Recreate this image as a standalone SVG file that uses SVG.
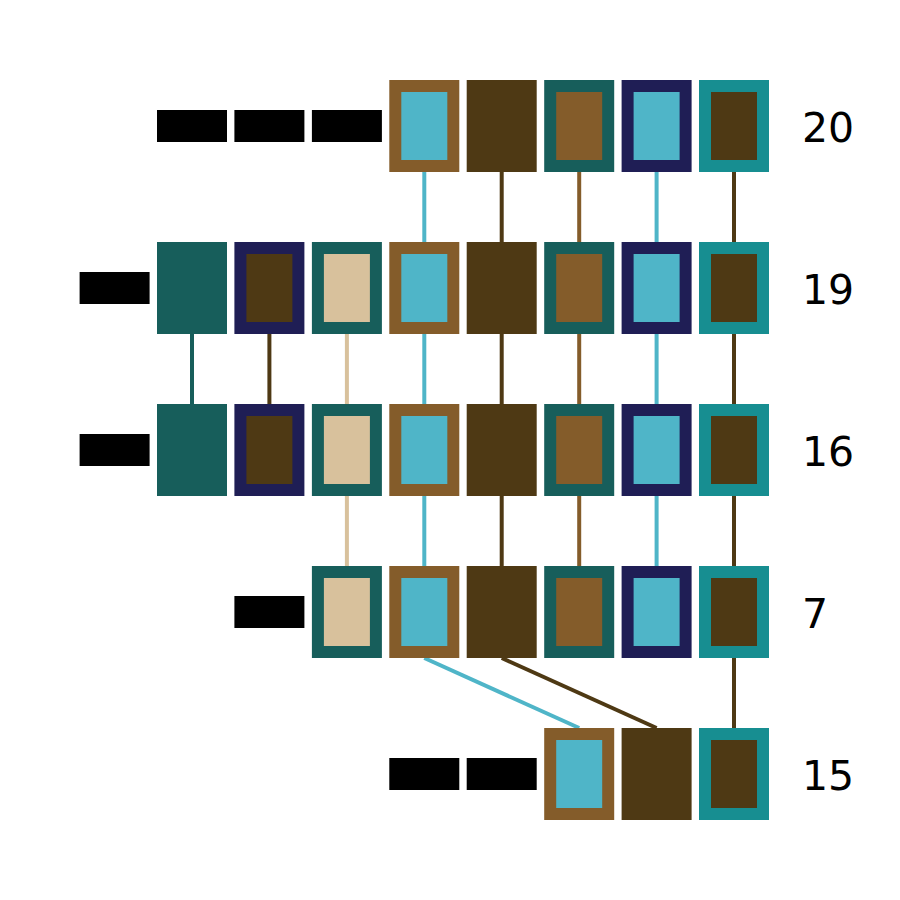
<svg xmlns="http://www.w3.org/2000/svg" width="900" height="900" viewBox="0 0 900 900">
<style>
.bar{fill:#000}
.lbl{font-family:"DejaVu Sans",sans-serif;font-size:41px;fill:#000}
.c line{stroke-width:4;fill:none}
.cy{stroke:#4FB5C8}.db{stroke:#4E3914}.br{stroke:#845C2A}.tl{stroke:#175E5B}.bg{stroke:#D8C19C}
.fBr{fill:#845C2A}.fCy{fill:#4FB5C8}.fDb{fill:#4E3914}.fTl{fill:#175E5B}.fNv{fill:#1F1E55}.fTL{fill:#178E91}.fBg{fill:#D8C19C}
</style>
<rect width="900" height="900" fill="#fff"/>
<g id="connectors" class="c">
<line class="cy" x1="424.3" y1="172" x2="424.3" y2="242"/>
<line class="db" x1="501.7" y1="172" x2="501.7" y2="242"/>
<line class="br" x1="579.2" y1="172" x2="579.2" y2="242"/>
<line class="cy" x1="656.6" y1="172" x2="656.6" y2="242"/>
<line class="db" x1="734" y1="172" x2="734" y2="242"/>
<line class="tl" x1="192" y1="334" x2="192" y2="404"/>
<line class="db" x1="269.4" y1="334" x2="269.4" y2="404"/>
<line class="bg" x1="346.9" y1="334" x2="346.9" y2="404"/>
<line class="cy" x1="424.3" y1="334" x2="424.3" y2="404"/>
<line class="db" x1="501.7" y1="334" x2="501.7" y2="404"/>
<line class="br" x1="579.2" y1="334" x2="579.2" y2="404"/>
<line class="cy" x1="656.6" y1="334" x2="656.6" y2="404"/>
<line class="db" x1="734" y1="334" x2="734" y2="404"/>
<line class="bg" x1="346.9" y1="496" x2="346.9" y2="566"/>
<line class="cy" x1="424.3" y1="496" x2="424.3" y2="566"/>
<line class="db" x1="501.7" y1="496" x2="501.7" y2="566"/>
<line class="br" x1="579.2" y1="496" x2="579.2" y2="566"/>
<line class="cy" x1="656.6" y1="496" x2="656.6" y2="566"/>
<line class="db" x1="734" y1="496" x2="734" y2="566"/>
<line class="cy" x1="424.3" y1="658" x2="579.2" y2="728"/>
<line class="db" x1="501.7" y1="658" x2="656.6" y2="728"/>
<line class="db" x1="734" y1="658" x2="734" y2="728"/>
</g>
<g id="row20">
<rect class="bar" x="157" y="110" width="70" height="32"/>
<rect class="bar" x="234.4" y="110" width="70" height="32"/>
<rect class="bar" x="311.9" y="110" width="70" height="32"/>
<g id="n20-3"><rect class="fBr" x="389.3" y="80" width="70" height="92"/><rect class="fCy" x="401.3" y="92" width="46" height="68"/></g>
<g id="n20-4"><rect class="fDb" x="466.7" y="80" width="70" height="92"/></g>
<g id="n20-5"><rect class="fTl" x="544.2" y="80" width="70" height="92"/><rect class="fBr" x="556.2" y="92" width="46" height="68"/></g>
<g id="n20-6"><rect class="fNv" x="621.6" y="80" width="70" height="92"/><rect class="fCy" x="633.6" y="92" width="46" height="68"/></g>
<g id="n20-7"><rect class="fTL" x="699" y="80" width="70" height="92"/><rect class="fDb" x="711" y="92" width="46" height="68"/></g>
<text class="lbl" x="802" y="142">20</text>
</g>
<g id="row19">
<rect class="bar" x="79.6" y="272" width="70" height="32"/>
<g id="n19-0"><rect class="fTl" x="157" y="242" width="70" height="92"/></g>
<g id="n19-1"><rect class="fNv" x="234.4" y="242" width="70" height="92"/><rect class="fDb" x="246.4" y="254" width="46" height="68"/></g>
<g id="n19-2"><rect class="fTl" x="311.9" y="242" width="70" height="92"/><rect class="fBg" x="323.9" y="254" width="46" height="68"/></g>
<g id="n19-3"><rect class="fBr" x="389.3" y="242" width="70" height="92"/><rect class="fCy" x="401.3" y="254" width="46" height="68"/></g>
<g id="n19-4"><rect class="fDb" x="466.7" y="242" width="70" height="92"/></g>
<g id="n19-5"><rect class="fTl" x="544.2" y="242" width="70" height="92"/><rect class="fBr" x="556.2" y="254" width="46" height="68"/></g>
<g id="n19-6"><rect class="fNv" x="621.6" y="242" width="70" height="92"/><rect class="fCy" x="633.6" y="254" width="46" height="68"/></g>
<g id="n19-7"><rect class="fTL" x="699" y="242" width="70" height="92"/><rect class="fDb" x="711" y="254" width="46" height="68"/></g>
<text class="lbl" x="802" y="304">19</text>
</g>
<g id="row16">
<rect class="bar" x="79.6" y="434" width="70" height="32"/>
<g id="n16-0"><rect class="fTl" x="157" y="404" width="70" height="92"/></g>
<g id="n16-1"><rect class="fNv" x="234.4" y="404" width="70" height="92"/><rect class="fDb" x="246.4" y="416" width="46" height="68"/></g>
<g id="n16-2"><rect class="fTl" x="311.9" y="404" width="70" height="92"/><rect class="fBg" x="323.9" y="416" width="46" height="68"/></g>
<g id="n16-3"><rect class="fBr" x="389.3" y="404" width="70" height="92"/><rect class="fCy" x="401.3" y="416" width="46" height="68"/></g>
<g id="n16-4"><rect class="fDb" x="466.7" y="404" width="70" height="92"/></g>
<g id="n16-5"><rect class="fTl" x="544.2" y="404" width="70" height="92"/><rect class="fBr" x="556.2" y="416" width="46" height="68"/></g>
<g id="n16-6"><rect class="fNv" x="621.6" y="404" width="70" height="92"/><rect class="fCy" x="633.6" y="416" width="46" height="68"/></g>
<g id="n16-7"><rect class="fTL" x="699" y="404" width="70" height="92"/><rect class="fDb" x="711" y="416" width="46" height="68"/></g>
<text class="lbl" x="802" y="466">16</text>
</g>
<g id="row7">
<rect class="bar" x="234.4" y="596" width="70" height="32"/>
<g id="n7-2"><rect class="fTl" x="311.9" y="566" width="70" height="92"/><rect class="fBg" x="323.9" y="578" width="46" height="68"/></g>
<g id="n7-3"><rect class="fBr" x="389.3" y="566" width="70" height="92"/><rect class="fCy" x="401.3" y="578" width="46" height="68"/></g>
<g id="n7-4"><rect class="fDb" x="466.7" y="566" width="70" height="92"/></g>
<g id="n7-5"><rect class="fTl" x="544.2" y="566" width="70" height="92"/><rect class="fBr" x="556.2" y="578" width="46" height="68"/></g>
<g id="n7-6"><rect class="fNv" x="621.6" y="566" width="70" height="92"/><rect class="fCy" x="633.6" y="578" width="46" height="68"/></g>
<g id="n7-7"><rect class="fTL" x="699" y="566" width="70" height="92"/><rect class="fDb" x="711" y="578" width="46" height="68"/></g>
<text class="lbl" x="802" y="628">7</text>
</g>
<g id="row15">
<rect class="bar" x="389.3" y="758" width="70" height="32"/>
<rect class="bar" x="466.7" y="758" width="70" height="32"/>
<g id="n15-5"><rect class="fBr" x="544.2" y="728" width="70" height="92"/><rect class="fCy" x="556.2" y="740" width="46" height="68"/></g>
<g id="n15-6"><rect class="fDb" x="621.6" y="728" width="70" height="92"/></g>
<g id="n15-7"><rect class="fTL" x="699" y="728" width="70" height="92"/><rect class="fDb" x="711" y="740" width="46" height="68"/></g>
<text class="lbl" x="802" y="790">15</text>
</g>
</svg>
